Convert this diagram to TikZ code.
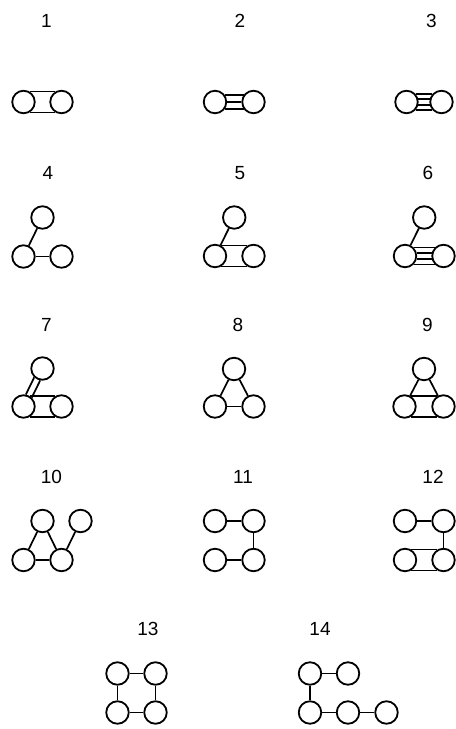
\documentclass[tikz,border=0pt]{standalone}
\usepackage{fontspec}
\setmainfont{Liberation Sans}
\begin{document}
\begin{tikzpicture}[x=1bp,y=-1bp,
  v/.style={circle,draw,line width=1.8bp,minimum size=22.5bp,inner sep=0pt},
  e/.style={line width=1.7bp},
  lab/.style={font=\fontsize{19bp}{19bp}\selectfont,inner sep=0pt}]
\useasboundingbox (0,0) rectangle (456,729);
% ---------- labels ----------
\node[lab] (l1)  at (46.5,20.5) {1};
\node[lab] (l2)  at (240,20.5) {2};
\node[lab] (l3)  at (431.5,20.5) {3};
\node[lab] (l4)  at (48,173) {4};
\node[lab] (l5)  at (240,173) {5};
\node[lab] (l6)  at (428,173) {6};
\node[lab] (l7)  at (46.5,325) {7};
\node[lab] (l8)  at (238,325) {8};
\node[lab] (l9)  at (427.5,325) {9};
\node[lab] (l10) at (51.5,477) {10};
\node[lab] (l11) at (243,477) {11};
\node[lab] (l12) at (433,477) {12};
\node[lab] (l13) at (148,629) {13};
\node[lab] (l14) at (320,629) {14};
% ---------- graph 1 ----------
\node[v] (g1a) at (23.5,102) {};
\node[v] (g1b) at (61.5,102) {};
\draw[e] (g1a.60) -- (g1b.120);
\draw[e] (g1a.-60) -- (g1b.-120);
% ---------- graph 2 ----------
\node[v] (g2a) at (215,102) {};
\node[v] (g2b) at (253.5,102) {};
\draw[e] (g2a.35) -- (g2b.145);
\draw[e] (g2a) -- (g2b);
\draw[e] (g2a.-35) -- (g2b.-145);
% ---------- graph 3 ----------
\node[v] (g3a) at (406.5,102) {};
\node[v] (g3b) at (441.5,102) {};
\draw[e] (g3a.42) -- (g3b.138);
\draw[e] (g3a.13) -- (g3b.167);
\draw[e] (g3a.-13) -- (g3b.-167);
\draw[e] (g3a.-42) -- (g3b.-138);
% ---------- graph 4 ----------
\node[v] (g4t) at (42.5,217.5) {};
\node[v] (g4a) at (23.5,256.5) {};
\node[v] (g4b) at (61.5,256.5) {};
\draw[e] (g4t) -- (g4a);
\draw[e] (g4a) -- (g4b);
% ---------- graph 5 ----------
\node[v] (g5t) at (234.25,217.5) {};
\node[v] (g5a) at (215,256) {};
\node[v] (g5b) at (253.5,256) {};
\draw[e] (g5t) -- (g5a);
\draw[e] (g5a.60) -- (g5b.120);
\draw[e] (g5a.-60) -- (g5b.-120);
% ---------- graph 6 ----------
\node[v] (g6t) at (424.25,217.5) {};
\node[v] (g6a) at (405,256) {};
\node[v] (g6b) at (443.5,256) {};
\draw[e] (g6t) -- (g6a);
\draw[e] (g6a.45) -- (g6b.135);
\draw[e] (g6a.14) -- (g6b.166);
\draw[e] (g6a.-14) -- (g6b.-166);
\draw[e] (g6a.-45) -- (g6b.-135);
% ---------- graph 7 ----------
\node[v] (g7t) at (42.5,368.5) {};
\node[v] (g7a) at (23.5,406.5) {};
\node[v] (g7b) at (61.5,406.5) {};
\draw[e] (g7t.259.4) -- (g7a.47.4);
\draw[e] (g7t.227.4) -- (g7a.79.4);
\draw[e] (g7a.60) -- (g7b.120);
\draw[e] (g7a.-60) -- (g7b.-120);
% ---------- graph 8 ----------
\node[v] (g8t) at (234,369) {};
\node[v] (g8a) at (215,406.5) {};
\node[v] (g8b) at (253.5,406.5) {};
\draw[e] (g8t) -- (g8a);
\draw[e] (g8t) -- (g8b);
\draw[e] (g8a) -- (g8b);
% ---------- graph 9 ----------
\node[v] (g9t) at (424,369) {};
\node[v] (g9a) at (404.5,406.5) {};
\node[v] (g9b) at (443.5,406.5) {};
\draw[e] (g9t) -- (g9a);
\draw[e] (g9t) -- (g9b);
\draw[e] (g9a.60) -- (g9b.120);
\draw[e] (g9a.-60) -- (g9b.-120);
% ---------- graph 10 ----------
\node[v] (g10a) at (42.5,521) {};
\node[v] (g10b) at (80.5,521) {};
\node[v] (g10c) at (23.5,560) {};
\node[v] (g10d) at (61.5,560) {};
\draw[e] (g10a) -- (g10c);
\draw[e] (g10a) -- (g10d);
\draw[e] (g10c) -- (g10d);
\draw[e] (g10d) -- (g10b);
% ---------- graph 11 ----------
\node[v] (g11a) at (215,521) {};
\node[v] (g11b) at (253.5,521) {};
\node[v] (g11c) at (215,560) {};
\node[v] (g11d) at (253.5,560) {};
\draw[e] (g11a) -- (g11b);
\draw[e] (g11b) -- (g11d);
\draw[e] (g11c) -- (g11d);
% ---------- graph 12 ----------
\node[v] (g12a) at (405,521) {};
\node[v] (g12b) at (443.5,521) {};
\node[v] (g12c) at (405,560) {};
\node[v] (g12d) at (443.5,560) {};
\draw[e] (g12a) -- (g12b);
\draw[e] (g12b) -- (g12d);
\draw[e] (g12c.60) -- (g12d.120);
\draw[e] (g12c.-60) -- (g12d.-120);
% ---------- graph 13 ----------
\node[v] (g13a) at (117.5,673.5) {};
\node[v] (g13b) at (155.5,673.5) {};
\node[v] (g13c) at (117.5,712.5) {};
\node[v] (g13d) at (155.5,712.5) {};
\draw[e] (g13a) -- (g13b);
\draw[e] (g13b) -- (g13d);
\draw[e] (g13d) -- (g13c);
\draw[e] (g13c) -- (g13a);
% ---------- graph 14 ----------
\node[v] (g14a) at (310,673.5) {};
\node[v] (g14b) at (348,673.5) {};
\node[v] (g14c) at (310,712.5) {};
\node[v] (g14d) at (348,712.5) {};
\node[v] (g14e) at (386.5,712.5) {};
\draw[e] (g14a) -- (g14b);
\draw[e] (g14a) -- (g14c);
\draw[e] (g14c) -- (g14d);
\draw[e] (g14d) -- (g14e);
\end{tikzpicture}
\end{document}
